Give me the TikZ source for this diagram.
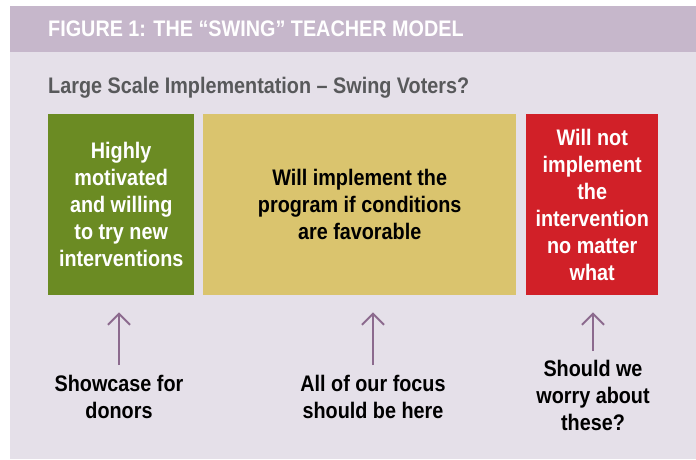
\documentclass[tikz,border=0pt]{standalone}
\usepackage{fontspec}
\setmainfont{Liberation Sans}[FakeStretch=0.88]
\usetikzlibrary{arrows.meta}

\definecolor{bandmauve}{HTML}{C6B7CB}
\definecolor{pagemauve}{HTML}{E5E0E9}
\definecolor{keengreen}{HTML}{6B8B23}
\definecolor{swingyellow}{HTML}{DAC46E}
\definecolor{refusered}{HTML}{D12028}
\definecolor{arrowmauve}{HTML}{8C6A8E}
\definecolor{subgray}{HTML}{58595B}

\tikzset{
  bigtext/.style={font=\bfseries\fontsize{22.5}{27}\selectfont},
  group/.style={bigtext, anchor=north west, minimum height=181pt, inner sep=0pt, align=center},
  remark/.style={bigtext, align=center, inner sep=0pt},
  uparrow/.style={draw=arrowmauve, line width=2pt, -{Straight Barb[length=11pt,width=22pt]}, shorten >=17pt}
}

\begin{document}
\begin{tikzpicture}[x=1pt,y=-1pt]
  \useasboundingbox (0,0) rectangle (696,459);
  % le fond et le bandeau
  \fill[white] (0,0) rectangle (696,459);
  \fill[pagemauve] (10,6) rectangle (696,459);
  \fill[bandmauve] (10,6) rectangle (696,52);
  \node[bigtext, text=white, anchor=base west, inner sep=0pt] (title) at (48,36) {FIGURE 1: THE “SWING” TEACHER MODEL};
  \node[bigtext, text=subgray, anchor=base west, inner sep=0pt] (subtitle) at (48,93) {Large Scale Implementation – Swing Voters?};
  % les trois groupes
  \node[group, fill=keengreen, text=white, minimum width=146pt] (keen) at (48,114)
    {Highly\\motivated\\and willing\\to try new\\interventions};
  \node[group, fill=swingyellow, text=black, minimum width=313pt] (swing) at (203,114)
    {Will implement the\\program if conditions\\are favorable};
  \node[group, fill=refusered, text=white, minimum width=132pt] (refuse) at (526,114)
    {Will not\\implement\\the\\intervention\\no matter\\what};
  % les remarques
  \node[remark] (showcase) at (119,397) {Showcase for\\donors};
  \node[remark] (focus) at (373,397) {All of our focus\\should be here};
  \node[remark] (worry) at (593,395) {Should we\\worry about\\these?};
  % les fleches
  \coordinate (tailA) at (119,365);
  \coordinate (tailB) at (373,365);
  \coordinate (tailC) at (593,351);
  \draw[uparrow] (tailA) -- (tailA |- keen.south);
  \draw[uparrow] (tailB) -- (tailB |- swing.south);
  \draw[uparrow] (tailC) -- (tailC |- refuse.south);
\end{tikzpicture}
\end{document}
